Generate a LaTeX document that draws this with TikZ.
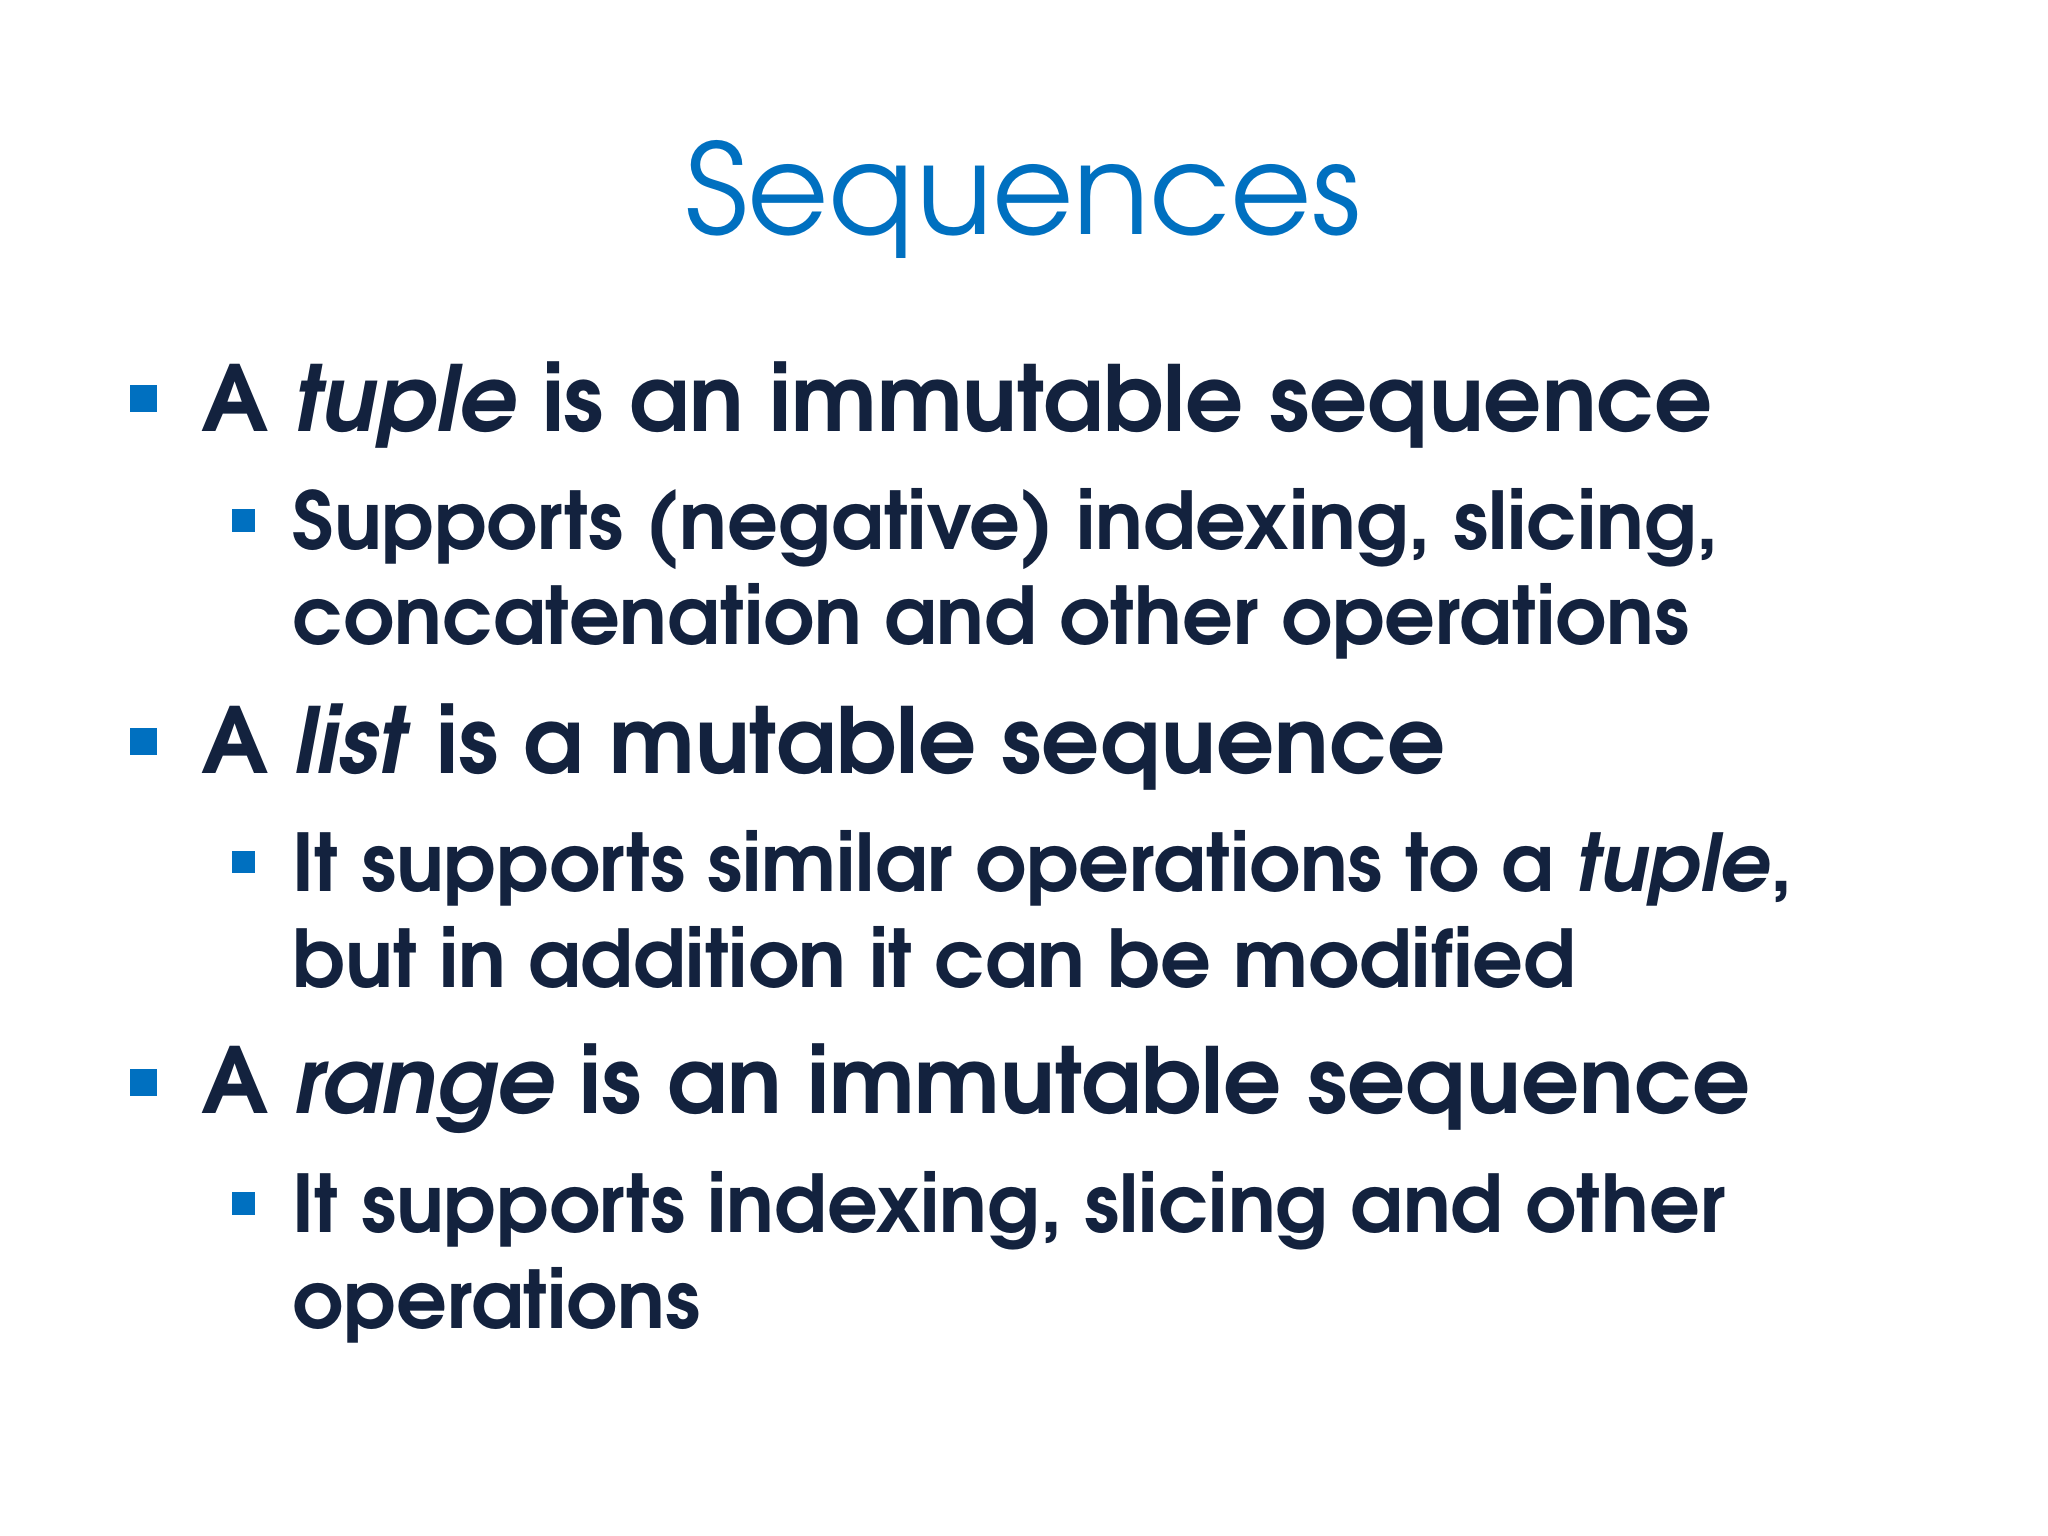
\documentclass[tikz,border=0pt]{standalone}
\usepackage{fontspec}
\setmainfont{TeX Gyre Adventor}
\definecolor{slideblue}{HTML}{0070C0}
\definecolor{slidenavy}{HTML}{13223E}
\begin{document}
\begin{tikzpicture}[
  lvlone/.style={anchor=base west, inner sep=0pt, text=slidenavy, font=\fontsize{25.9}{30}\selectfont\bfseries},
  lvltwo/.style={anchor=base west, inner sep=0pt, text=slidenavy, font=\fontsize{22.65}{26}\selectfont\bfseries},
  bulone/.style={fill=slideblue, minimum size=0.27cm, inner sep=0pt},
  bultwo/.style={fill=slideblue, minimum size=0.23cm, inner sep=0pt}]
	\useasboundingbox[fill=white] (0,0) rectangle (20.48,-15.36);
	\node[anchor=base, inner sep=0pt, text=slideblue, font=\fontsize{35.6}{42}\selectfont] (title) at (10.23,-2.35) {Sequences};
	% tuple
	\node[bulone] (bta) at (1.435,-3.99) {};
	\node[lvlone] (tuple) at (2.01,-4.32) {A \textit{tuple} is an immutable sequence};
	\node[bultwo] (btb) at (2.435,-5.205) {};
	\node[lvltwo] (tuplea) at (2.92,-5.50) {Supports (negative) indexing, slicing,};
	\node[lvltwo] (tupleb) at (2.92,-6.45) {concatenation and other operations};
	% list
	\node[bulone] (bla) at (1.435,-7.41) {};
	\node[lvlone] (list) at (2.01,-7.73) {A \textit{list} is a mutable sequence};
	\node[bultwo] (blb) at (2.435,-8.62) {};
	\node[lvltwo] (lista) at (2.92,-8.91) {It supports similar operations to a \textit{tuple},};
	\node[lvltwo] (listb) at (2.92,-9.87) {but in addition it can be modified};
	% range
	\node[bulone] (bra) at (1.435,-10.82) {};
	\node[lvlone] (range) at (2.01,-11.14) {A \textit{range} is an immutable sequence};
	\node[bultwo] (brb) at (2.435,-12.03) {};
	\node[lvltwo] (rangea) at (2.92,-12.32) {It supports indexing, slicing and other};
	\node[lvltwo] (rangeb) at (2.92,-13.28) {operations};
\end{tikzpicture}
\end{document}
